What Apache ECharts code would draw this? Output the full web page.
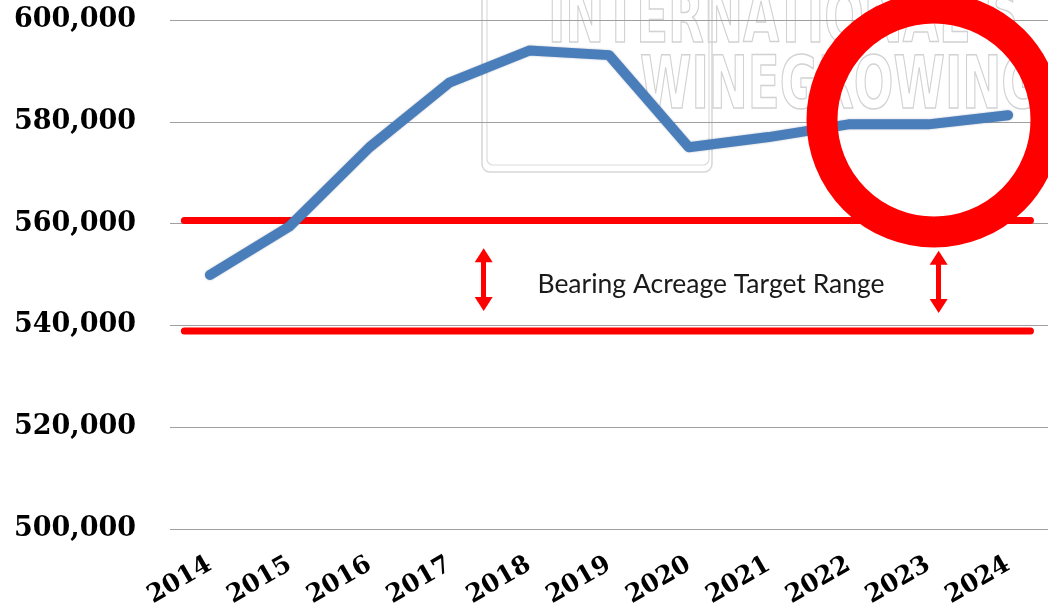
<!DOCTYPE html>
<html>
<head>
<meta charset="utf-8">
<script src="https://cdn.jsdelivr.net/npm/echarts@6/dist/echarts.min.js"></script>
<style>html,body{margin:0;padding:0;background:#fff}#c{width:1048px;height:611px}</style>
</head>
<body>
<div id="c"></div>
<script>
// ---- data ----
const years = ['2014','2015','2016','2017','2018','2019','2020','2021','2022','2023','2024'];
const bearingAcres = [549900, 559500, 575000, 587700, 594000, 593100, 575000, 577000, 579500, 579500, 581300];
const yTicks = [500000, 520000, 540000, 560000, 580000, 600000];
const targetUpper = 560600;
const targetLower = 538900;
const targetSpan = [-0.32, 10.28];           // in category-index units
const arrowLeft = { x: 3.43, from: 553800, to: 544200 };
const arrowRight = { x: 9.13, from: 553300, to: 543800 };
const rangeLabel = 'Bearing Acreage Target Range';
const watermarkLines = ['INTERNATIONAL S', 'WINEGROWING'];

const chart = echarts.init(document.getElementById('c'), null, { renderer: 'canvas' });
const fmt = v => v.toLocaleString('en-US');

const option = {
  animation: false,
  backgroundColor: '#ffffff',
  grid: { left: 170, right: -10, top: 20, bottom: 82, containLabel: false },
  xAxis: [
    {
      type: 'category', data: years, boundaryGap: true,
      axisLine: { show: false }, axisTick: { show: false },
      axisLabel: { rotate: 30, margin: 34, color: '#000', fontFamily: 'DejaVu Serif', fontWeight: 'bold', fontSize: 25, interval: 0 }
    },
    { type: 'value', min: -0.5, max: 10.5, show: false }
  ],
  yAxis: {
    type: 'value', min: yTicks[0], max: yTicks[yTicks.length - 1], interval: 20000,
    axisLine: { show: false }, axisTick: { show: false },
    splitLine: { lineStyle: { color: '#a0a0a0', width: 1 } },
    axisLabel: { formatter: fmt, margin: 34, color: '#000', fontFamily: 'DejaVu Serif', fontWeight: 'bold', fontSize: 27 }
  },
  series: [
    {
      name: 'Bearing Acreage', type: 'line', xAxisIndex: 0, data: bearingAcres,
      symbol: 'none', z: 5,
      lineStyle: { color: '#4a7ebb', width: 10, cap: 'round', join: 'round', shadowColor: 'rgba(30,50,90,0.35)', shadowBlur: 2 }
    },
    {
      name: 'Upper', type: 'line', xAxisIndex: 1, symbol: 'none', z: 4,
      data: targetSpan.map(x => [x, targetUpper]),
      lineStyle: { color: '#ff0000', width: 7, cap: 'round' }
    },
    {
      name: 'Lower', type: 'line', xAxisIndex: 1, symbol: 'none', z: 4,
      data: targetSpan.map(x => [x, targetLower]),
      lineStyle: { color: '#ff0000', width: 7, cap: 'round' },
      markLine: {
        silent: true, symbol: ['triangle', 'triangle'], symbolSize: [18, 14],
        label: { show: false },
        lineStyle: { color: '#ff0000', width: 5, type: 'solid' },
        data: [
          [{ coord: [arrowLeft.x, arrowLeft.from] }, { coord: [arrowLeft.x, arrowLeft.to] }],
          [{ coord: [arrowRight.x, arrowRight.from] }, { coord: [arrowRight.x, arrowRight.to] }]
        ]
      }
    }
  ],
  graphic: [
    { type: 'rect', z: 0, shape: { x: 482, y: -20, width: 230, height: 192, r: 8 }, style: { fill: 'none', stroke: '#d6d6d6', lineWidth: 1.5 } },
    { type: 'rect', z: 0, shape: { x: 487, y: -20, width: 222, height: 185, r: 6 }, style: { fill: 'none', stroke: '#dcdcdc', lineWidth: 1.2 } },
    { type: 'text', z: 0, x: 548, y: 60, scaleX: 0.71, style: { text: watermarkLines[0], font: 'bold 73px "DejaVu Sans Condensed"', fill: 'rgba(255,255,255,0)', stroke: '#d2d2d2', lineWidth: 1.5, textVerticalAlign: 'bottom', textAlign: 'left' } },
    { type: 'text', z: 0, x: 640, y: 126, scaleX: 0.71, style: { text: watermarkLines[1], font: 'bold 73px "DejaVu Sans Condensed"', fill: 'rgba(255,255,255,0)', stroke: '#d2d2d2', lineWidth: 1.5, textVerticalAlign: 'bottom', textAlign: 'left' } },
    { type: 'text', z: 10, x: 711, y: 284, style: { text: rangeLabel, font: '26.5px Lato', fill: '#1a1a1a', textAlign: 'center', textVerticalAlign: 'middle' } },
    { type: 'circle', z: 100, shape: { cx: 934, cy: 120, r: 112 }, style: { fill: 'none', stroke: '#ff0000', lineWidth: 31 } }
  ]
};
chart.setOption(option);
</script>
</body>
</html>
